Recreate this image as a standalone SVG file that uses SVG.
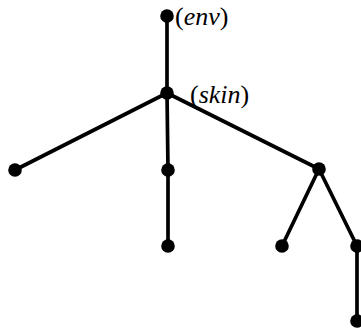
<svg xmlns="http://www.w3.org/2000/svg" width="361" height="331" viewBox="0 0 361 331">
<style>
.e{stroke:#000;stroke-width:3.7;fill:none;stroke-linecap:round}
.n{fill:#000}
.t{font-family:"Liberation Serif","Times New Roman",serif;font-size:26px;fill:#000}
.i{font-style:italic}
</style>
<rect width="361" height="331" fill="#fff"/>
<g id="connectors">
<line class="e" x1="167" y1="16" x2="167" y2="93"/>
<line class="e" x1="167" y1="93" x2="15" y2="170"/>
<line class="e" x1="167" y1="93" x2="168" y2="170"/>
<line class="e" x1="168" y1="170" x2="168" y2="246"/>
<line class="e" x1="167" y1="93" x2="319" y2="169"/>
<line class="e" x1="319" y1="169" x2="282" y2="246"/>
<line class="e" x1="319" y1="169" x2="357" y2="246"/>
<line class="e" x1="357" y1="246" x2="357" y2="321"/>
</g>
<g id="env"><circle class="n" cx="167" cy="16" r="6.8"/><text class="t" x="175" y="25">(<tspan class="i">env</tspan>)</text></g>
<g id="skin"><circle class="n" cx="167" cy="93" r="6.8"/><text class="t" x="190" y="103">(<tspan class="i">skin</tspan>)</text></g>
<g id="n1"><circle class="n" cx="15" cy="170" r="6.8"/></g>
<g id="n2"><circle class="n" cx="168" cy="170" r="6.8"/></g>
<g id="n3"><circle class="n" cx="168" cy="246" r="6.8"/></g>
<g id="n4"><circle class="n" cx="319" cy="169" r="6.8"/></g>
<g id="n5"><circle class="n" cx="282" cy="246" r="6.8"/></g>
<g id="n6"><circle class="n" cx="357" cy="246" r="6.8"/></g>
<g id="n7"><circle class="n" cx="357" cy="321" r="6.8"/></g>
</svg>
